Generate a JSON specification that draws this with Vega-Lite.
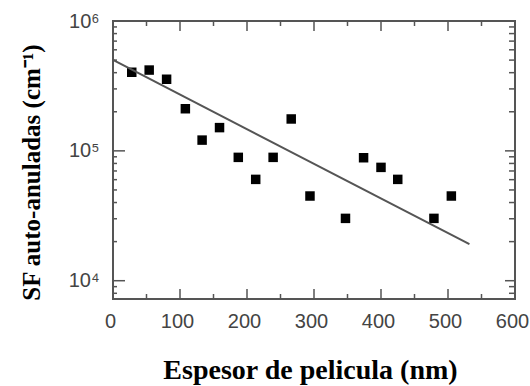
{
  "$schema": "https://vega.github.io/schema/vega-lite/v6.json",
  "width": 402,
  "height": 278,
  "autosize": "none",
  "padding": {"left": 113, "top": 21, "right": 15, "bottom": 87},
  "background": "white",
  "config": {
    "view": {"stroke": "#555555", "strokeWidth": 2},
    "axis": {"grid": false, "domain": false, "labelFlush": false, "labelOverlap": false, "labelBound": false}
  },
  "datasets": {
    "pts": [
      {"espesor": 28, "sf": 403000},
      {"espesor": 54, "sf": 419000},
      {"espesor": 80, "sf": 356000},
      {"espesor": 108, "sf": 211000},
      {"espesor": 133, "sf": 121000},
      {"espesor": 159, "sf": 151000},
      {"espesor": 187, "sf": 89100},
      {"espesor": 213, "sf": 60300},
      {"espesor": 239, "sf": 89100},
      {"espesor": 266, "sf": 176000},
      {"espesor": 294, "sf": 44900},
      {"espesor": 347, "sf": 30200},
      {"espesor": 374, "sf": 88500},
      {"espesor": 400, "sf": 74600},
      {"espesor": 425, "sf": 60300},
      {"espesor": 479, "sf": 30200},
      {"espesor": 505, "sf": 44900}
    ],
    "fit": [
      {"espesor": 0, "sf": 501000},
      {"espesor": 532, "sf": 19140}
    ],
    "xmaj": [{"espesor": 100}, {"espesor": 200}, {"espesor": 300}, {"espesor": 400}, {"espesor": 500}],
    "xmin": [{"espesor": 50}, {"espesor": 150}, {"espesor": 250}, {"espesor": 350}, {"espesor": 450}, {"espesor": 550}],
    "ymaj": [{"sf": 10000}, {"sf": 100000}],
    "ymin": [
      {"sf": 8000}, {"sf": 9000}, {"sf": 20000}, {"sf": 30000}, {"sf": 40000}, {"sf": 50000}, {"sf": 60000}, {"sf": 70000}, {"sf": 80000}, {"sf": 90000},
      {"sf": 200000}, {"sf": 300000}, {"sf": 400000}, {"sf": 500000}, {"sf": 600000}, {"sf": 700000}, {"sf": 800000}, {"sf": 900000}
    ]
  },
  "layer": [
    {
      "data": {"name": "pts"},
      "mark": {"type": "square", "size": 90, "color": "black", "opacity": 1},
      "encoding": {
        "x": {"field": "espesor", "type": "quantitative",
          "scale": {"domain": [0, 600], "nice": false, "zero": false},
          "axis": {"orient": "bottom", "values": [0, 100, 200, 300, 400, 500, 600], "ticks": false, "tickSize": 0,
            "labelFont": "Liberation Sans", "labelFontSize": 20, "labelColor": "#444444", "labelPadding": 12, "labelBaseline": "top", "labelOffset": -3,
            "title": "Espesor de pelicula (nm)", "titleFont": "Liberation Serif", "titleFontWeight": "bold", "titleFontSize": 28, "titleColor": "black",
            "titleX": 197, "titleY": 79, "titleAlign": "center", "titleBaseline": "alphabetic"}},
        "y": {"field": "sf", "type": "quantitative",
          "scale": {"type": "log", "domain": [7230, 1000000], "nice": false},
          "axis": {"orient": "left", "values": [10000, 100000, 1000000], "ticks": false, "tickSize": 0,
            "labelExpr": "datum.value >= 999999 ? '10⁶' : (datum.value >= 99999 ? '10⁵' : '10⁴')",
            "labelFont": "Liberation Sans", "labelFontSize": 20, "labelColor": "#444444", "labelPadding": 14,
            "title": "SF auto-anuladas (cm⁻¹)", "titleFont": "Liberation Serif", "titleFontWeight": "bold", "titleFontSize": 25, "titleColor": "black",
            "titleX": -82, "titleY": 151, "titleAngle": 270, "titleAlign": "center", "titleBaseline": "middle"}}
      }
    },
    {
      "data": {"name": "fit"},
      "mark": {"type": "line", "color": "#555555", "strokeWidth": 2},
      "encoding": {
        "x": {"field": "espesor", "type": "quantitative", "axis": null},
        "y": {"field": "sf", "type": "quantitative", "axis": null}
      }
    },
    {
      "data": {"name": "xmaj"},
      "mark": {"type": "point", "shape": "M0,0L0,-2", "size": 100, "filled": false, "strokeWidth": 1.5, "color": "#555555", "opacity": 1},
      "encoding": {
        "x": {"field": "espesor", "type": "quantitative", "axis": null},
        "y": {"datum": 7230, "type": "quantitative", "axis": null}
      }
    },
    {
      "data": {"name": "xmin"},
      "mark": {"type": "point", "shape": "M0,0L0,-2", "size": 25, "filled": false, "strokeWidth": 1.5, "color": "#555555", "opacity": 1},
      "encoding": {
        "x": {"field": "espesor", "type": "quantitative", "axis": null},
        "y": {"datum": 7230, "type": "quantitative", "axis": null}
      }
    },
    {
      "data": {"name": "xmaj"},
      "mark": {"type": "point", "shape": "M0,0L0,2", "size": 100, "filled": false, "strokeWidth": 1.5, "color": "#555555", "opacity": 1},
      "encoding": {
        "x": {"field": "espesor", "type": "quantitative", "axis": null},
        "y": {"datum": 1000000, "type": "quantitative", "axis": null}
      }
    },
    {
      "data": {"name": "xmin"},
      "mark": {"type": "point", "shape": "M0,0L0,2", "size": 25, "filled": false, "strokeWidth": 1.5, "color": "#555555", "opacity": 1},
      "encoding": {
        "x": {"field": "espesor", "type": "quantitative", "axis": null},
        "y": {"datum": 1000000, "type": "quantitative", "axis": null}
      }
    },
    {
      "data": {"name": "ymaj"},
      "mark": {"type": "point", "shape": "M0,0L2,0", "size": 144, "filled": false, "strokeWidth": 1.5, "color": "#555555", "opacity": 1},
      "encoding": {
        "y": {"field": "sf", "type": "quantitative", "axis": null},
        "x": {"datum": 0, "type": "quantitative", "axis": null}
      }
    },
    {
      "data": {"name": "ymin"},
      "mark": {"type": "point", "shape": "M0,0L2,0", "size": 16, "filled": false, "strokeWidth": 1.5, "color": "#555555", "opacity": 1},
      "encoding": {
        "y": {"field": "sf", "type": "quantitative", "axis": null},
        "x": {"datum": 0, "type": "quantitative", "axis": null}
      }
    },
    {
      "data": {"name": "ymaj"},
      "mark": {"type": "point", "shape": "M0,0L-2,0", "size": 100, "filled": false, "strokeWidth": 1.5, "color": "#555555", "opacity": 1},
      "encoding": {
        "y": {"field": "sf", "type": "quantitative", "axis": null},
        "x": {"datum": 600, "type": "quantitative", "axis": null}
      }
    },
    {
      "data": {"name": "ymin"},
      "mark": {"type": "point", "shape": "M0,0L-2,0", "size": 36, "filled": false, "strokeWidth": 1.5, "color": "#555555", "opacity": 1},
      "encoding": {
        "y": {"field": "sf", "type": "quantitative", "axis": null},
        "x": {"datum": 600, "type": "quantitative", "axis": null}
      }
    }
  ],
  "resolve": {"axis": {"x": "independent", "y": "independent"}}
}
